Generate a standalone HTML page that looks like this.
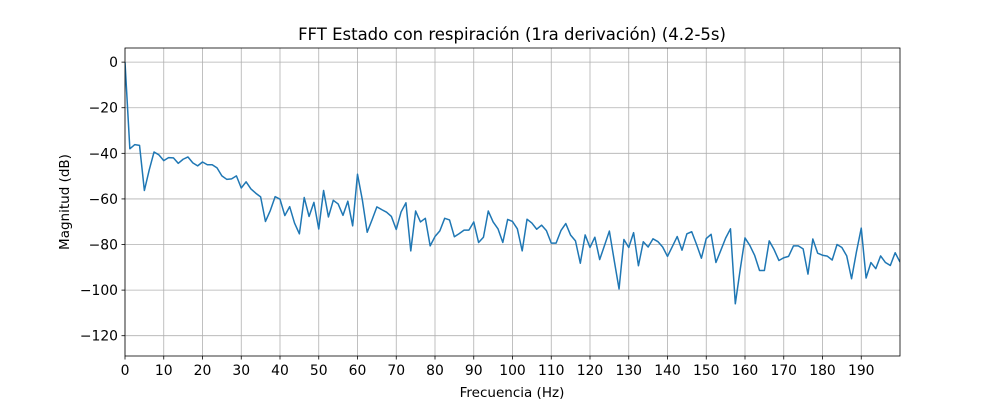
<!DOCTYPE html>
<html><head><meta charset="utf-8"><style>
html,body{margin:0;padding:0;background:#fff;}
svg{display:block;font-family:"DejaVu Sans","Liberation Sans",sans-serif;}
</style></head><body>
<svg id="chart" width="1000" height="400" viewBox="0 0 1000 400">
<rect x="0" y="0" width="1000" height="400" fill="#fff"/>
<text x="512" y="40" font-size="16.5" text-anchor="middle" fill="#000">FFT Estado con respiración (1ra derivación) (4.2-5s)</text>
<text x="512" y="397" font-size="13.5" text-anchor="middle" fill="#000">Frecuencia (Hz)</text>
<text x="69" y="202" font-size="13.5" text-anchor="middle" fill="#000" transform="rotate(-90 69 202)">Magnitud (dB)</text>
<g id="grid"></g>
<g id="series"></g>
<g id="axes"></g>
</svg>
<script>
const xTicks = [0,10,20,30,40,50,60,70,80,90,100,110,120,130,140,150,160,170,180,190];
const yTicks = [0,-20,-40,-60,-80,-100,-120];
const freqStep = 1.25;
const magnitudes = [
0,-38,-36.2,-36.5,-56.3,-47.3,-39.4,-40.7,-43.2,-41.9,
-42,-44.4,-42.6,-41.6,-44.2,-45.5,-43.8,-45,-45,-46.4,
-49.9,-51.4,-51.2,-49.9,-55.2,-52.5,-55.6,-57.5,-59.1,-69.9,
-65.1,-59,-60.1,-67.3,-63.4,-70.6,-75.3,-59.4,-67.7,-61.5,
-73.2,-56.3,-67.9,-60.6,-62.2,-67.2,-61,-71.8,-49.2,-60.4,
-74.6,-69.2,-63.5,-64.7,-65.8,-67.7,-73.4,-65.7,-61.7,-82.8,
-65.3,-70.1,-68.5,-80.6,-76.5,-74,-68.5,-69.2,-76.6,-75.2,
-73.7,-73.7,-70.1,-79.1,-76.8,-65.3,-70.1,-73.1,-79.1,-69,
-69.9,-73.1,-82.8,-68.9,-70.6,-73.3,-71.5,-73.9,-79.4,-79.4,
-73.9,-70.8,-75.9,-78.4,-88.2,-75.8,-81.3,-76.8,-86.6,-80.4,
-74.1,-87,-99.5,-77.8,-81.3,-74.8,-89.3,-78.8,-81.1,-77.5,
-78.7,-81.1,-85.2,-80.9,-76.5,-82.5,-75.3,-74.4,-80,-86,
-77.4,-75.5,-87.9,-82.6,-77.2,-73.1,-106,-91.1,-77.1,-80.4,
-84.8,-91.4,-91.4,-78.4,-82.2,-87,-85.8,-85.2,-80.6,-80.6,
-81.9,-93,-77.6,-83.8,-84.7,-85.1,-86.8,-80,-81.3,-85,
-95,-83.3,-72.8,-94.7,-87.9,-90.6,-85,-87.9,-89.2,-83.6,-87.7
];
const X0=125,X1=900,Y0=48,Y1=356, xMin=0,xMax=200,yMin=-128.9,yMax=6.2;
const NS='http://www.w3.org/2000/svg';
function sx(v){return X0+(v-xMin)/(xMax-xMin)*(X1-X0);}
function sy(v){return Y1-(v-yMin)/(yMax-yMin)*(Y1-Y0);}
function mk(tag,attrs,parent){const e=document.createElementNS(NS,tag);for(const k in attrs)e.setAttribute(k,attrs[k]);parent.appendChild(e);return e;}
const grid=document.getElementById('grid'),axes=document.getElementById('axes'),series=document.getElementById('series');
xTicks.forEach(t=>{
  const x=sx(t);
  const g=mk('line',{x1:x,x2:x,y1:Y0,y2:Y1,stroke:'#b0b0b0','stroke-width':0.8},grid);
  
  
  const tk=mk('line',{x1:x,x2:x,y1:Y1,y2:Y1+3.5,stroke:'#000','stroke-width':0.8},axes);
  
  
  const lb=mk('text',{x:x,y:Y1+19,'font-size':13.9,'text-anchor':'middle',fill:'#000'},axes);
  lb.textContent=String(t);
  
  
});
yTicks.forEach(t=>{
  const y=sy(t);
  const g=mk('line',{x1:X0,x2:X1,y1:y,y2:y,stroke:'#b0b0b0','stroke-width':0.8},grid);
  
  
  const tk=mk('line',{x1:X0-3.5,x2:X0,y1:y,y2:y,stroke:'#000','stroke-width':0.8},axes);
  
  
  const lb=mk('text',{x:X0-7,y:y+5,'font-size':13.9,'text-anchor':'end',fill:'#000'},axes);
  lb.textContent=(t<0?'\u2212'+(-t):String(t));
  
  
});
const clip=mk('clipPath',{id:'plotclip'},series);
mk('rect',{x:X0,y:Y0,width:X1-X0,height:Y1-Y0},clip);
const pts=magnitudes.map((m,i)=>sx(i*freqStep).toFixed(2)+','+sy(m).toFixed(2)).join(' ');
const pl=mk('polyline',{points:pts,fill:'none',stroke:'#1f77b4','stroke-width':1.5,'stroke-linejoin':'round','clip-path':'url(#plotclip)'},series);


const fr=mk('rect',{x:X0,y:Y0,width:X1-X0,height:Y1-Y0,fill:'none',stroke:'#000','stroke-width':0.8},axes);


</script>
</body></html>
